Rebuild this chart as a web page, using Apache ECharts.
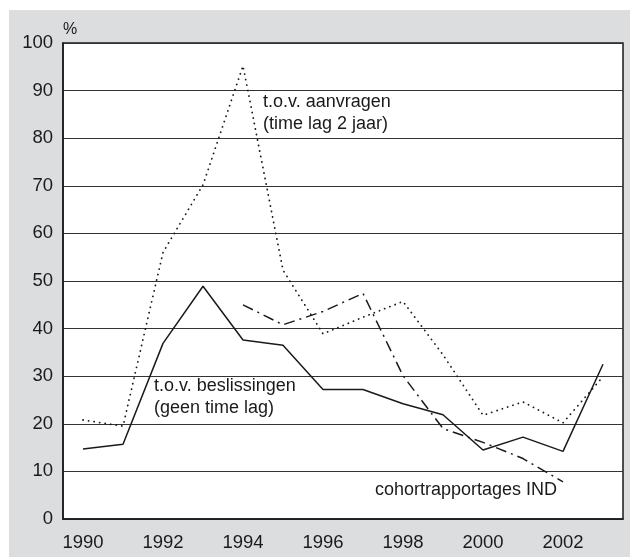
<!DOCTYPE html>
<html>
<head>
<meta charset="utf-8">
<script src="https://cdn.jsdelivr.net/npm/echarts@6/dist/echarts.min.js"></script>
<style>
  html, body { margin: 0; padding: 0; background: #fff; }
  #bg { position: absolute; left: 9px; top: 10px; width: 621px; height: 547px; background: #dcdddf; }
  #chart { position: absolute; left: 0; top: 0; width: 631px; height: 559px; }
</style>
</head>
<body>
<div id="bg"></div>
<div id="chart"></div>
<script>
const years = ['1990', '1991', '1992', '1993', '1994', '1995', '1996', '1997', '1998', '1999', '2000', '2001', '2002', '2003'];
const beslissingen = [14.7, 15.7, 36.9, 48.9, 37.6, 36.5, 27.2, 27.2, 24.2, 21.9, 14.5, 17.2, 14.2, 32.5];
const aanvragen = [20.8, 19.5, 56, 70.2, 95.2, 52.3, 38.9, 42.4, 45.7, 34.5, 21.8, 24.6, 20.2, 29.9];
const cohort = [null, null, null, null, 45.0, 40.8, 43.6, 47.4, 30.1, 19.0, 16.1, 12.7, 7.8, null];

const font = 'Liberation Sans, Arial, sans-serif';
const ink = '#1a1a1a';

const chart = echarts.init(document.getElementById('chart'));

chart.setOption({
  animation: false,
  grid: {
    left: 63,
    right: 8,
    top: 43,
    bottom: 40,
    show: true,
    backgroundColor: '#fff',
    borderColor: ink,
    borderWidth: 1.5,
  },
  xAxis: {
    type: 'category',
    data: years,
    boundaryGap: true,
    axisLine: { lineStyle: { color: ink, width: 1.5 } },
    axisTick: { alignWithLabel: true, interval: 0, length: 4, lineStyle: { color: ink } },
    axisLabel: { interval: 1, margin: 14, color: ink, fontSize: 18.5, fontFamily: font },
    splitLine: { show: false },
  },
  yAxis: {
    type: 'value',
    min: 0,
    max: 100,
    interval: 10,
    name: '%',
    nameLocation: 'end',
    nameGap: 5,
    nameTextStyle: { align: 'left', verticalAlign: 'bottom', color: ink, fontSize: 16, fontFamily: font },
    axisLine: { show: true, lineStyle: { color: ink, width: 1.5 } },
    axisTick: { show: false },
    axisLabel: { margin: 10, color: ink, fontSize: 18.5, fontFamily: font },
    splitLine: { lineStyle: { color: '#333', width: 1 } },
  },
  series: [
    {
      name: 't.o.v. beslissingen',
      type: 'line',
      data: beslissingen,
      showSymbol: false,
      lineStyle: { color: ink, width: 1.5 },
    },
    {
      name: 't.o.v. aanvragen',
      type: 'line',
      data: aanvragen,
      showSymbol: false,
      lineStyle: { color: ink, width: 1.8, type: [0.1, 5.5], cap: 'round' },
    },
    {
      name: 'cohortrapportages IND',
      type: 'line',
      data: cohort,
      showSymbol: false,
      connectNulls: false,
      lineStyle: { color: ink, width: 1.5, type: [11, 5, 2, 5] },
    },
  ],
  graphic: [
    { type: 'text', left: 263, top: 91, style: { text: 't.o.v. aanvragen\n(time lag 2 jaar)', fill: ink, font: '18px ' + font, lineHeight: 22 } },
    { type: 'text', left: 154, top: 375, style: { text: 't.o.v. beslissingen\n(geen time lag)', fill: ink, font: '18px ' + font, lineHeight: 22 } },
    { type: 'text', left: 375, top: 481, style: { text: 'cohortrapportages IND', fill: ink, font: '18px ' + font } },
  ],
});
</script>
</body>
</html>
